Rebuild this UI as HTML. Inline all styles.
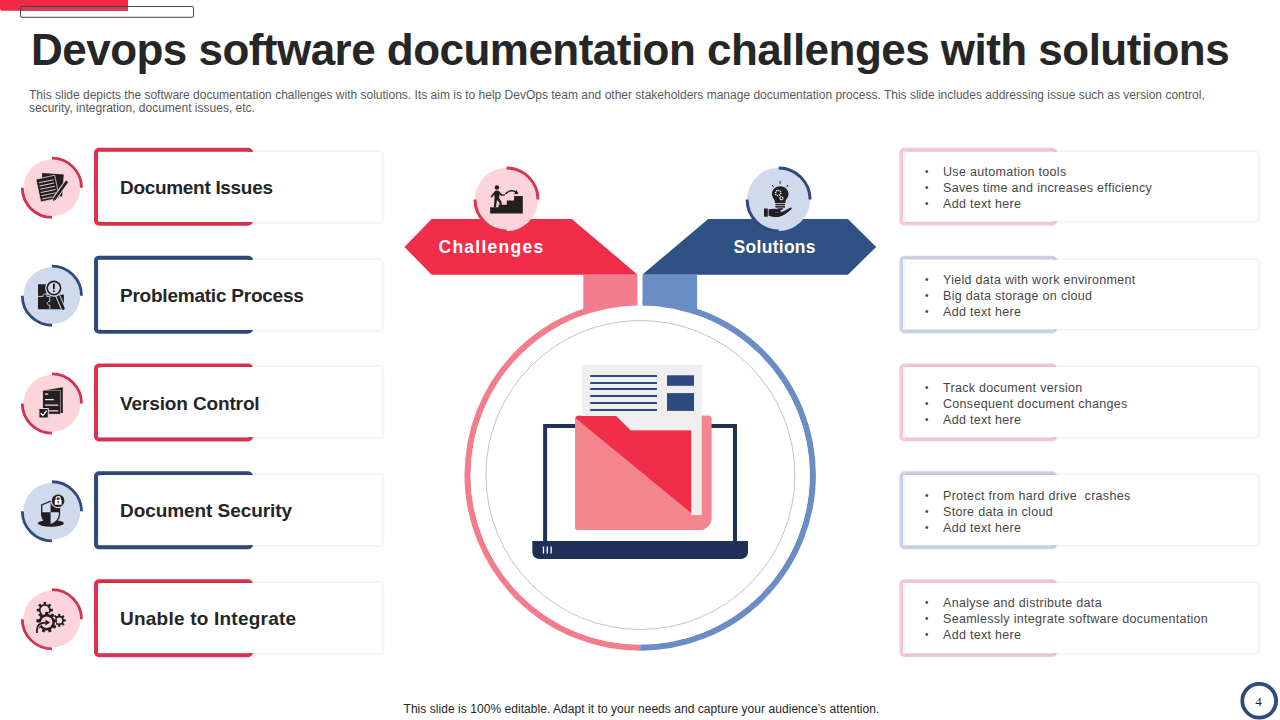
<!DOCTYPE html>
<html><head><meta charset="utf-8">
<style>
*{margin:0;padding:0;box-sizing:border-box}
html,body{width:1280px;height:720px;overflow:hidden;background:#fff}
body{position:relative;font-family:"Liberation Sans",sans-serif}
.a{position:absolute;white-space:nowrap;line-height:1}
.title{left:31px;top:27.6px;font-size:44px;font-weight:bold;color:#262626;letter-spacing:-0.53px}
.sub{left:29px;top:89px;font-size:12px;color:#595959;line-height:13px}
.lbl{font-size:19px;font-weight:bold;color:#262626;letter-spacing:-0.4px}
.bul{font-size:12.5px;color:#474747;line-height:16px;letter-spacing:0.3px}
.foot{left:403.5px;top:703px;font-size:12px;color:#262626;letter-spacing:0.05px}
.hx{font-size:17.5px;font-weight:bold;color:#fff}
.card{position:absolute;background:#fff;border-radius:3px;box-shadow:0 0 3px 0.5px rgba(0,0,0,0.09)}
svg{position:absolute;left:0;top:0}
</style></head><body>
<svg width="1280" height="720" viewBox="0 0 1280 720">
<path d="M0 0 H128 V10.8 H2 A2 2 0 0 1 0 8.8 Z" fill="#f02a45"/>
<rect x="21" y="6.8" width="107" height="4" fill="#d83a56"/>
<rect x="20.5" y="6.5" width="173" height="10.8" rx="1.5" fill="none" stroke="#3a4652" stroke-width="1"/>
<circle cx="51.9" cy="187.80" r="28.4" fill="#fcd4da"/>
<path d="M51.9 158.20 A29.6 29.6 0 0 1 81.5 187.80" fill="none" stroke="#d4304f" stroke-width="2.8"/>
<path d="M22.3 187.80 A29.6 29.6 0 0 0 51.9 217.40" fill="none" stroke="#d4304f" stroke-width="2.8"/>
<g transform="translate(51.9 187.80)">
<g transform="translate(0.5 -2) rotate(4)"><rect x="-11" y="-12" width="21.5" height="22" fill="#231f20"/></g>
<g transform="translate(-4.2 0.8) rotate(-12)">
 <rect x="-9.6" y="-11.6" width="19.2" height="23.2" fill="#231f20" stroke="#fcd4da" stroke-width="0.7"/>
 <path d="M-7.5 -7.5H7.5 M-7.5 -4.2H7.5 M-7.5 -0.9H7.5 M-7.5 2.4H7.5 M-7.5 5.7H7.5 M-7.5 9H3" stroke="#d9c6c9" stroke-width="1"/>
</g>
<path d="M15.2 -6.6 L2.4 11.4" stroke="#fcd4da" stroke-width="4.6"/>
<path d="M15.2 -6.6 L2.4 11.4" stroke="#231f20" stroke-width="2.8"/>
<path d="M1.2 13.4 L1.4 10.4 L3.6 12 Z" fill="#231f20"/>
</g>
<rect x="96" y="149.80" width="155" height="74" rx="3" fill="#fff" stroke="#de3150" stroke-width="4"/>
<rect x="901.2" y="149.60" width="154" height="74.2" rx="3" fill="#fff" stroke="#f2cbd3" stroke-width="3.6"/>
<circle cx="51.9" cy="295.65" r="28.4" fill="#cfdaec"/>
<path d="M51.9 266.05 A29.6 29.6 0 0 1 81.5 295.65" fill="none" stroke="#2f4a7c" stroke-width="2.8"/>
<path d="M22.3 295.65 A29.6 29.6 0 0 0 51.9 325.25" fill="none" stroke="#2f4a7c" stroke-width="2.8"/>
<g transform="translate(51.9 295.65)">
<path d="M-13.9 -11.5 H-5.5 V-1 H12 V13.5 H-13.9 Z" fill="#231f20"/>
<path d="M-13.9 0.75 H-8.8 M-5.2 0.75 H-2.1 V5.9 M-2.1 9.5 V13.5" stroke="#cfdaec" stroke-width="0.9" fill="none"/>
<path d="M-8.8 0.75 A1.9 1.9 0 1 1 -5.2 0.75" stroke="#cfdaec" stroke-width="0.9" fill="none"/>
<path d="M-2.1 5.9 A1.9 1.9 0 1 0 -2.1 9.5" stroke="#cfdaec" stroke-width="0.9" fill="none"/>
<path d="M5.4 -1 L11.3 12.6" stroke="#cfdaec" stroke-width="5" stroke-linecap="butt"/>
<path d="M5.4 -1 L11.3 12.6" stroke="#231f20" stroke-width="3" stroke-linecap="round"/>
<circle cx="2" cy="-7.6" r="8.7" fill="#cfdaec"/>
<circle cx="2" cy="-7.6" r="6.7" fill="#cfdaec" stroke="#231f20" stroke-width="1.6"/>
<path d="M2 -12 V-6.4" stroke="#231f20" stroke-width="1.9"/><circle cx="2" cy="-4.3" r="1" fill="#231f20"/>
</g>
<rect x="96" y="257.65" width="155" height="74" rx="3" fill="#fff" stroke="#2f4a7c" stroke-width="4"/>
<rect x="901.2" y="257.45" width="154" height="74.2" rx="3" fill="#fff" stroke="#cbd4e6" stroke-width="3.6"/>
<circle cx="51.9" cy="403.50" r="28.4" fill="#fcd4da"/>
<path d="M51.9 373.90 A29.6 29.6 0 0 1 81.5 403.50" fill="none" stroke="#d4304f" stroke-width="2.8"/>
<path d="M22.3 403.50 A29.6 29.6 0 0 0 51.9 433.10" fill="none" stroke="#d4304f" stroke-width="2.8"/>
<g transform="translate(51.9 403.50)">
<path d="M-7 -13.3 L10.9 -16.3 V9.5 L-7 10.6 Z" fill="#231f20"/>
<rect x="-9.1" y="-13.3" width="17.8" height="23.9" fill="#231f20" stroke="#fcd4da" stroke-width="0.5"/>
<path d="M-7 -9.4 H-3.6 M-7 -3.8 H2 M-7 1.7 H6.4 M-3.6 7.3 H6.4" stroke="#f1dde1" stroke-width="1.2"/>
<rect x="-13" y="5" width="9.4" height="9.5" fill="#231f20" stroke="#fcd4da" stroke-width="1"/>
<path d="M-11.3 9.6 L-9 12 L-5.2 7.2" stroke="#fff" stroke-width="1.3" fill="none"/>
</g>
<rect x="96" y="365.50" width="155" height="74" rx="3" fill="#fff" stroke="#de3150" stroke-width="4"/>
<rect x="901.2" y="365.30" width="154" height="74.2" rx="3" fill="#fff" stroke="#f2cbd3" stroke-width="3.6"/>
<circle cx="51.9" cy="511.35" r="28.4" fill="#cfdaec"/>
<path d="M51.9 481.75 A29.6 29.6 0 0 1 81.5 511.35" fill="none" stroke="#2f4a7c" stroke-width="2.8"/>
<path d="M22.3 511.35 A29.6 29.6 0 0 0 51.9 540.95" fill="none" stroke="#2f4a7c" stroke-width="2.8"/>
<g transform="translate(51.9 511.35)">
<ellipse cx="-1" cy="12" rx="13" ry="3.3" fill="#231f20"/>
<path d="M-1.3 -10.2 L7.6 -6.5 V3 C7.6 8 4 11.5 -1.3 13.4 C-6.6 11.5 -10.2 8 -10.2 3 V-6.5 Z" fill="#cfdaec" stroke="#231f20" stroke-width="1.3"/>
<path d="M-1.3 -10.2 L7.6 -6.5 V0.9 H-1.3 Z" fill="#231f20"/>
<path d="M-10.2 0.9 H-1.3 V13.4 C-6.6 11.5 -10.2 8 -10.2 3 Z" fill="#231f20"/>
<path d="M-1.3 -10.2 L7.6 -6.5 V3 C7.6 8 4 11.5 -1.3 13.4 C-6.6 11.5 -10.2 8 -10.2 3 V-6.5 Z" fill="none" stroke="#cfdaec" stroke-width="0.5" transform="translate(-1.3 1.6) scale(0.0)"/>
<circle cx="6.2" cy="-10.6" r="6.9" fill="#231f20" stroke="#cfdaec" stroke-width="1.1"/>
<path d="M4.2 -11.2 V-12.6 A2.1 2.1 0 0 1 8.4 -12.6 V-11.2" stroke="#fff" stroke-width="1.2" fill="none"/>
<rect x="2.9" y="-11.6" width="6.8" height="5" fill="#fff"/>
<circle cx="6.3" cy="-9.6" r="0.8" fill="#231f20"/><rect x="5.95" y="-9.4" width="0.7" height="1.6" fill="#231f20"/>
</g>
<rect x="96" y="473.35" width="155" height="74" rx="3" fill="#fff" stroke="#2f4a7c" stroke-width="4"/>
<rect x="901.2" y="473.15" width="154" height="74.2" rx="3" fill="#fff" stroke="#cbd4e6" stroke-width="3.6"/>
<circle cx="51.9" cy="619.20" r="28.4" fill="#fcd4da"/>
<path d="M51.9 589.60 A29.6 29.6 0 0 1 81.5 619.20" fill="none" stroke="#d4304f" stroke-width="2.8"/>
<path d="M22.3 619.20 A29.6 29.6 0 0 0 51.9 648.80" fill="none" stroke="#d4304f" stroke-width="2.8"/>
<g transform="translate(51.9 619.20)">
<circle cx="-7.1" cy="-9.1" r="6.0" fill="#231f20"/><rect x="-8.40" y="-17.20" width="2.6" height="3.1" fill="#231f20" transform="rotate(0.0 -7.1 -9.1)"/><rect x="-8.40" y="-17.20" width="2.6" height="3.1" fill="#231f20" transform="rotate(45.0 -7.1 -9.1)"/><rect x="-8.40" y="-17.20" width="2.6" height="3.1" fill="#231f20" transform="rotate(90.0 -7.1 -9.1)"/><rect x="-8.40" y="-17.20" width="2.6" height="3.1" fill="#231f20" transform="rotate(135.0 -7.1 -9.1)"/><rect x="-8.40" y="-17.20" width="2.6" height="3.1" fill="#231f20" transform="rotate(180.0 -7.1 -9.1)"/><rect x="-8.40" y="-17.20" width="2.6" height="3.1" fill="#231f20" transform="rotate(225.0 -7.1 -9.1)"/><rect x="-8.40" y="-17.20" width="2.6" height="3.1" fill="#231f20" transform="rotate(270.0 -7.1 -9.1)"/><rect x="-8.40" y="-17.20" width="2.6" height="3.1" fill="#231f20" transform="rotate(315.0 -7.1 -9.1)"/><circle cx="-7.1" cy="-9.1" r="4.3" fill="#fcd4da"/>
<circle cx="7.3" cy="1.2" r="4.7" fill="#231f20"/><rect x="6.20" y="-5.30" width="2.2" height="2.8" fill="#231f20" transform="rotate(0.0 7.3 1.2)"/><rect x="6.20" y="-5.30" width="2.2" height="2.8" fill="#231f20" transform="rotate(45.0 7.3 1.2)"/><rect x="6.20" y="-5.30" width="2.2" height="2.8" fill="#231f20" transform="rotate(90.0 7.3 1.2)"/><rect x="6.20" y="-5.30" width="2.2" height="2.8" fill="#231f20" transform="rotate(135.0 7.3 1.2)"/><rect x="6.20" y="-5.30" width="2.2" height="2.8" fill="#231f20" transform="rotate(180.0 7.3 1.2)"/><rect x="6.20" y="-5.30" width="2.2" height="2.8" fill="#231f20" transform="rotate(225.0 7.3 1.2)"/><rect x="6.20" y="-5.30" width="2.2" height="2.8" fill="#231f20" transform="rotate(270.0 7.3 1.2)"/><rect x="6.20" y="-5.30" width="2.2" height="2.8" fill="#231f20" transform="rotate(315.0 7.3 1.2)"/><circle cx="7.3" cy="1.2" r="3.0" fill="#fcd4da"/>
<circle cx="-5.2" cy="3.1" r="9.6" fill="#fcd4da"/>
<circle cx="-5.2" cy="3.1" r="8.2" fill="#231f20"/><rect x="-6.70" y="-7.30" width="3" height="3.2" fill="#231f20" transform="rotate(0.0 -5.2 3.1)"/><rect x="-6.70" y="-7.30" width="3" height="3.2" fill="#231f20" transform="rotate(40.0 -5.2 3.1)"/><rect x="-6.70" y="-7.30" width="3" height="3.2" fill="#231f20" transform="rotate(80.0 -5.2 3.1)"/><rect x="-6.70" y="-7.30" width="3" height="3.2" fill="#231f20" transform="rotate(120.0 -5.2 3.1)"/><rect x="-6.70" y="-7.30" width="3" height="3.2" fill="#231f20" transform="rotate(160.0 -5.2 3.1)"/><rect x="-6.70" y="-7.30" width="3" height="3.2" fill="#231f20" transform="rotate(200.0 -5.2 3.1)"/><rect x="-6.70" y="-7.30" width="3" height="3.2" fill="#231f20" transform="rotate(240.0 -5.2 3.1)"/><rect x="-6.70" y="-7.30" width="3" height="3.2" fill="#231f20" transform="rotate(280.0 -5.2 3.1)"/><rect x="-6.70" y="-7.30" width="3" height="3.2" fill="#231f20" transform="rotate(320.0 -5.2 3.1)"/><circle cx="-5.2" cy="3.1" r="5.7" fill="#fcd4da"/>
<path d="M-14.9 13.8 V10.5 C-14.9 5.5 -11 3.4 -6 3.4" stroke="#fcd4da" stroke-width="3.4" fill="none"/>
<path d="M-14.9 13.8 V10.5 C-14.9 5.5 -11 3.4 -6 3.4" stroke="#231f20" stroke-width="1.8" fill="none"/>
<path d="M-6.5 0.2 L-1.8 3.3 L-6.5 6.4 Z" fill="#231f20"/>
</g>
<rect x="96" y="581.20" width="155" height="74" rx="3" fill="#fff" stroke="#de3150" stroke-width="4"/>
<rect x="901.2" y="581.00" width="154" height="74.2" rx="3" fill="#fff" stroke="#f2cbd3" stroke-width="3.6"/>

<!-- arrows -->
<polygon points="404.4,247 431.7,219 571.8,219 637.6,274.7 431.7,274.7" fill="#f12d49"/>
<polygon points="642.2,274.7 708.2,219 847.9,219 876.2,247 847.9,274.7" fill="#2f5183"/>
<rect x="583.3" y="274.7" width="54.3" height="40" fill="#f47d8d"/>
<rect x="642.2" y="274.7" width="54.9" height="40" fill="#6b8dc6"/>
<!-- ring -->
<path d="M640.2 302.3 A172.65 172.65 0 0 0 640.2 647.6" fill="none" stroke="#f47d8d" stroke-width="6.1"/>
<path d="M640.2 302.3 A172.65 172.65 0 0 1 640.2 647.6" fill="none" stroke="#6b8dc6" stroke-width="6.1"/>
<rect x="637.6" y="270" width="4.8" height="36" fill="#fff"/>
<circle cx="640.2" cy="475" r="169.6" fill="#fff"/>
<circle cx="640.4" cy="475" r="154.5" fill="none" stroke="#c4c4c4" stroke-width="1"/>
<!-- challenge/solution icon circles -->
<circle cx="506.5" cy="199.5" r="31.6" fill="#fcd4da"/>
<path d="M506.5 168 A31.5 31.5 0 0 1 538 199.5" fill="none" stroke="#dc3550" stroke-width="3"/>
<path d="M475 199.5 A31.5 31.5 0 0 0 506.5 231" fill="none" stroke="#dc3550" stroke-width="3"/>
<g transform="translate(506.5 199.5)">
<path d="M-16.4 14 H16.3 V-3.5 H7.6 V0.9 H0.3 V5.2 H-8 V7.7 H-16.4 Z" fill="#231f20"/>
<circle cx="-9.6" cy="-12" r="2.2" fill="#231f20"/>
<path d="M-11.5 -8.5 Q-9.5 -9.5 -7.5 -8.5 L-4.5 -5 L-1.5 -5.2 L-1.5 -4 L-5.2 -3.5 L-7 -5.2 L-7.4 -1.5 L-5 2 L-4.6 7 L-6.6 7 L-7.2 3 L-9.5 0.5 L-10.5 7.7 L-12.6 7.7 L-12 -1.5 L-12.2 -5 L-14.5 -2 L-16 -3 Z" fill="#231f20"/>
<path d="M-1 -5.5 Q4 -11 10 -7.2" stroke="#231f20" stroke-width="1.6" fill="none"/>
<path d="M12.2 -5.8 L7.5 -5.2 L9.8 -9.4 Z" fill="#231f20"/>
</g>
<circle cx="778.6" cy="199.5" r="31.6" fill="#cfdaec"/>
<path d="M778.6 168 A31.5 31.5 0 0 1 810.1 199.5" fill="none" stroke="#2f4a7c" stroke-width="3"/>
<path d="M747.1 199.5 A31.5 31.5 0 0 0 778.6 231" fill="none" stroke="#2f4a7c" stroke-width="3"/>
<g transform="translate(778.6 199.5)">
<path d="M1.5 -18.5 V-15.6 M-6.5 -14.5 L-5 -12.5 M9.5 -14.5 L8 -12.5" stroke="#231f20" stroke-width="1"/>
<path d="M1.6 -13.2 C-3.8 -13.2 -6.7 -9 -6.7 -5.5 C-6.7 -2 -3.5 0 -3.5 3.5 H6.7 C6.7 0 9.9 -2 9.9 -5.5 C9.9 -9 7 -13.2 1.6 -13.2 Z" fill="#231f20"/>
<rect x="-3.2" y="4.3" width="9.6" height="1.5" fill="#231f20"/>
<rect x="-3.2" y="6.6" width="9.6" height="1.5" fill="#231f20"/>
<path d="M-1.5 8.8 H4.8 L3.5 10.5 H-0.2 Z" fill="#231f20"/>
<circle cx="-0.5" cy="-6.5" r="2.6" fill="none" stroke="#fff" stroke-width="1.4" stroke-dasharray="1.2 0.8"/>
<circle cx="2.8" cy="-1.3" r="1.6" fill="none" stroke="#fff" stroke-width="1"/>
<rect x="-14.6" y="9" width="3.8" height="8.2" fill="#231f20"/>
<path d="M-10 9.8 C-6 8.8 -2 9.2 1 10.2 C3 11 3 12.8 0.5 12.8 H-4 C-1 13.2 2 13 5 11.8 L11.5 8.2 C13 7.6 13.6 9 12.6 9.8 C9 13 5 16.5 0 17.4 C-4 18 -7 17 -10 16.2 Z" fill="#231f20"/>
</g>
<!-- laptop + folder -->
<path d="M545.1 541 V426.1 H735 V541" fill="none" stroke="#1f3158" stroke-width="4"/>
<path d="M532.3 541 H748 V552 A7 7 0 0 1 741 559 H539.3 A7 7 0 0 1 532.3 552 Z" fill="#1f3158"/>
<path d="M543.5 546.5 V553.5 M547.3 546.5 V553.5 M551.1 546.5 V553.5" stroke="#fff" stroke-width="1.3"/>
<path d="M575.1 418.6 A3 3 0 0 1 578.1 415.6 H708.6 A3 3 0 0 1 711.6 418.6 V518 A12 12 0 0 1 699.6 530 H578.1 A3 3 0 0 1 575.1 527 Z" fill="#f5858f"/>
<rect x="581.7" y="364.8" width="120" height="150.5" fill="#efefef"/>
<path d="M590.2 376 H657 M590.2 383 H657 M590.2 389 H657 M590.2 396 H657 M590.2 403 H657 M590.2 410 H657" stroke="#2d4a7f" stroke-width="2.2"/>
<rect x="667" y="375.3" width="27" height="10.5" fill="#2d4a7f"/>
<rect x="667" y="393.1" width="27" height="17.8" fill="#2d4a7f"/>
<path d="M575.1 419 A3 3 0 0 1 578.1 416 H616 L630.6 430.6 H691.2 V515.3 H703.4 V530 H578.1 A3 3 0 0 1 575.1 527 Z" fill="#f5858f"/>
<path d="M576 418.5 A2.5 2.5 0 0 1 578.5 416 H616 L630.6 430.6 H691.2 V513 Z" fill="#f02e49"/>

</svg>
<div class="card" style="left:100px;top:151.70px;width:282px;height:70px"></div>
<div class="card" style="left:905px;top:151.70px;width:353px;height:69.5px"></div>
<div class="card" style="left:100px;top:259.55px;width:282px;height:70px"></div>
<div class="card" style="left:905px;top:259.55px;width:353px;height:69.5px"></div>
<div class="card" style="left:100px;top:367.40px;width:282px;height:70px"></div>
<div class="card" style="left:905px;top:367.40px;width:353px;height:69.5px"></div>
<div class="card" style="left:100px;top:475.25px;width:282px;height:70px"></div>
<div class="card" style="left:905px;top:475.25px;width:353px;height:69.5px"></div>
<div class="card" style="left:100px;top:583.10px;width:282px;height:70px"></div>
<div class="card" style="left:905px;top:583.10px;width:353px;height:69.5px"></div>
<div class="a title">Devops software documentation challenges with solutions</div>
<div class="a sub">This slide depicts the software documentation challenges with solutions. Its aim is to help DevOps team and other stakeholders manage documentation process. This slide includes addressing issue such as version control,<br>security, integration, document issues, etc.</div>
<div class="a lbl" style="left:120px;top:177.80px;letter-spacing:-0.31px">Document Issues</div>
<div class="a bul" style="left:925px;top:164.00px;font-size:10px">•</div>
<div class="a bul" style="left:943px;top:164.00px">Use automation tools</div>
<div class="a bul" style="left:925px;top:180.00px;font-size:10px">•</div>
<div class="a bul" style="left:943px;top:180.00px">Saves time and increases efficiency</div>
<div class="a bul" style="left:925px;top:196.00px;font-size:10px">•</div>
<div class="a bul" style="left:943px;top:196.00px">Add text here</div>
<div class="a lbl" style="left:120px;top:285.65px;letter-spacing:-0.23px">Problematic Process</div>
<div class="a bul" style="left:925px;top:271.85px;font-size:10px">•</div>
<div class="a bul" style="left:943px;top:271.85px">Yield data with work environment</div>
<div class="a bul" style="left:925px;top:287.85px;font-size:10px">•</div>
<div class="a bul" style="left:943px;top:287.85px">Big data storage on cloud</div>
<div class="a bul" style="left:925px;top:303.85px;font-size:10px">•</div>
<div class="a bul" style="left:943px;top:303.85px">Add text here</div>
<div class="a lbl" style="left:120px;top:393.50px;letter-spacing:-0.13px">Version Control</div>
<div class="a bul" style="left:925px;top:379.70px;font-size:10px">•</div>
<div class="a bul" style="left:943px;top:379.70px">Track document version</div>
<div class="a bul" style="left:925px;top:395.70px;font-size:10px">•</div>
<div class="a bul" style="left:943px;top:395.70px">Consequent document changes</div>
<div class="a bul" style="left:925px;top:411.70px;font-size:10px">•</div>
<div class="a bul" style="left:943px;top:411.70px">Add text here</div>
<div class="a lbl" style="left:120px;top:501.35px;letter-spacing:-0.07px">Document Security</div>
<div class="a bul" style="left:925px;top:487.55px;font-size:10px">•</div>
<div class="a bul" style="left:943px;top:487.55px">Protect from hard drive&nbsp; crashes</div>
<div class="a bul" style="left:925px;top:503.55px;font-size:10px">•</div>
<div class="a bul" style="left:943px;top:503.55px">Store data in cloud</div>
<div class="a bul" style="left:925px;top:519.55px;font-size:10px">•</div>
<div class="a bul" style="left:943px;top:519.55px">Add text here</div>
<div class="a lbl" style="left:120px;top:609.20px;letter-spacing:0.22px">Unable to Integrate</div>
<div class="a bul" style="left:925px;top:595.40px;font-size:10px">•</div>
<div class="a bul" style="left:943px;top:595.40px">Analyse and distribute data</div>
<div class="a bul" style="left:925px;top:611.40px;font-size:10px">•</div>
<div class="a bul" style="left:943px;top:611.40px">Seamlessly integrate software documentation</div>
<div class="a bul" style="left:925px;top:627.40px;font-size:10px">•</div>
<div class="a bul" style="left:943px;top:627.40px">Add text here</div>
<div class="a hx" style="left:438.5px;top:239.2px;letter-spacing:1.25px">Challenges</div>
<div class="a hx" style="left:733.6px;top:239.2px;letter-spacing:0.28px">Solutions</div>
<svg width="1280" height="720" viewBox="0 0 1280 720" style="pointer-events:none">
<circle cx="1259.2" cy="700.8" r="16.9" fill="#fff" stroke="#2f4a7c" stroke-width="3.8"/>
</svg>
<div class="a" style="left:1255.3px;top:694.5px;font-size:13px;font-family:'Liberation Serif',serif;color:#262626">4</div>
<div class="a foot">This slide is 100% editable. Adapt it to your needs and capture your audience’s attention.</div>
</body></html>
